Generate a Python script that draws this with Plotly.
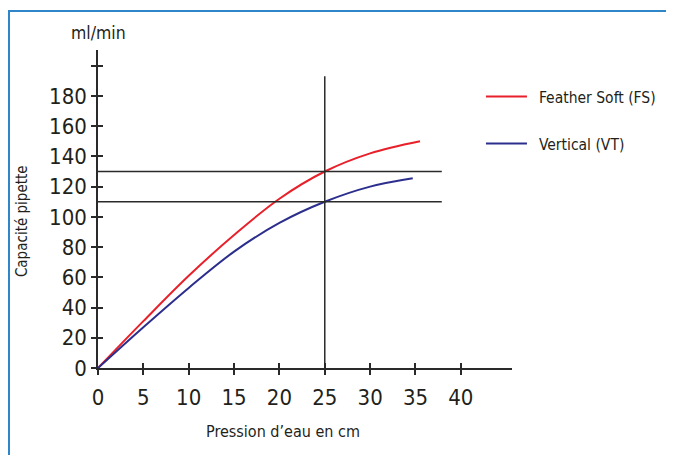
import plotly.graph_objects as go

# Data
pression_fs = [0, 5, 10, 15, 20, 25, 30, 35.5]
capacite_fs = [0, 31, 61, 88, 112, 130, 142, 150]
pression_vt = [0, 5, 10, 15, 20, 25, 30, 34.7]
capacite_vt = [0, 27, 53, 77, 96, 110, 120, 125.5]
x_ticks = [0, 5, 10, 15, 20, 25, 30, 35, 40]
y_ticks = [0, 20, 40, 60, 80, 100, 120, 140, 160, 180, 200]
y_labels = ["0", "20", "40", "60", "80", "100", "120", "140", "160", "180", ""]
ref_levels = [130, 110]
ref_pression = 25

FONT = "DejaVu Sans Condensed, Liberation Sans Narrow, sans-serif"
TXT = "#231f1a"
GAP = "\u2002"

fig = go.Figure()
fig.add_trace(go.Scatter(x=pression_fs, y=capacite_fs, mode="lines", name=GAP + "Feather Soft (FS)",
                         legendgroup="fs",
                         line=dict(color="#e8202a", width=2, shape="spline", smoothing=1.0)))
fig.add_trace(go.Scatter(x=pression_vt, y=capacite_vt, mode="lines", name=GAP + "Vertical (VT)",
                         legendgroup="vt",
                         line=dict(color="#2b2e8c", width=2, shape="spline", smoothing=1.0)))
# invisible trace for overlay axes (inside ticks)
fig.add_trace(go.Scatter(x=[0], y=[0], xaxis="x2", yaxis="y2", mode="markers",
                         marker=dict(opacity=0), showlegend=False, hoverinfo="skip"))

shapes = []
for lv in ref_levels:
    shapes.append(dict(type="line", xref="x", yref="y", x0=0, x1=37.9, y0=lv, y1=lv,
                       line=dict(color="#2a2a2a", width=1.5)))
shapes.append(dict(type="line", xref="x", yref="y", x0=ref_pression, x1=ref_pression, y0=0, y1=193,
                   line=dict(color="#2a2a2a", width=1.5)))
# blue frame
shapes.append(dict(type="rect", xref="paper", yref="paper", x0=-0.2150, x1=2.5, y0=-1.5, y1=1.1226,
                   line=dict(color="#2e86c8", width=2), layer="below"))

xr = [0, 45.64]
yr = [0, 210.4]
common_x = dict(range=xr, showgrid=False, zeroline=False, ticklen=5, tickwidth=1.5,
                tickcolor="#2a2a2a", tickvals=x_ticks, automargin=False)
common_y = dict(range=yr, showgrid=False, zeroline=False, ticklen=5, tickwidth=1.5,
                tickcolor="#2a2a2a", tickvals=y_ticks, automargin=False)

fig.update_layout(
    width=674, height=455,
    margin=dict(l=90, r=170, t=42, b=95, autoexpand=False),
    paper_bgcolor="white", plot_bgcolor="white",
    font=dict(family=FONT, color=TXT),
    showlegend=True,
    legend=dict(x=0.925, y=0.906, xanchor="left", yanchor="top", font=dict(size=15.5, family=FONT, color=TXT),
                tracegroupgap=24, traceorder="grouped", itemwidth=41, bgcolor="rgba(0,0,0,0)"),
    xaxis=dict(**common_x, ticks="outside", showline=True, linecolor="#2a2a2a", linewidth=1.5,
               ticktext=[str(v) for v in x_ticks], ticklabelstandoff=4,
               tickfont=dict(size=22, family=FONT, color=TXT)),
    yaxis=dict(**common_y, ticks="outside", showline=True, linecolor="#2a2a2a", linewidth=1.5,
               ticktext=y_labels,
               tickfont=dict(size=22, family=FONT, color=TXT)),
    xaxis2=dict(**common_x, ticks="inside", overlaying="x", showticklabels=False, showline=False, side="bottom"),
    yaxis2=dict(**common_y, ticks="inside", overlaying="y", showticklabels=False, showline=False, side="left"),
    shapes=shapes,
    annotations=[
        dict(text="ml/min", xref="paper", yref="paper", x=0.0024, y=1.053, xanchor="center",
             yanchor="middle", showarrow=False, font=dict(size=17.5, family=FONT, color=TXT)),
        dict(text="Pression d’eau en cm", xref="paper", yref="paper", x=0.447, y=-0.201, xanchor="center",
             yanchor="middle", showarrow=False, font=dict(size=16, family=FONT, color=TXT)),
        dict(text="Capacité pipette", xref="paper", yref="paper", x=-0.1836, y=0.462, xanchor="center",
             yanchor="middle", textangle=-90, showarrow=False, font=dict(size=15, family=FONT, color=TXT)),
    ],
)

fig.write_html("out.html")
